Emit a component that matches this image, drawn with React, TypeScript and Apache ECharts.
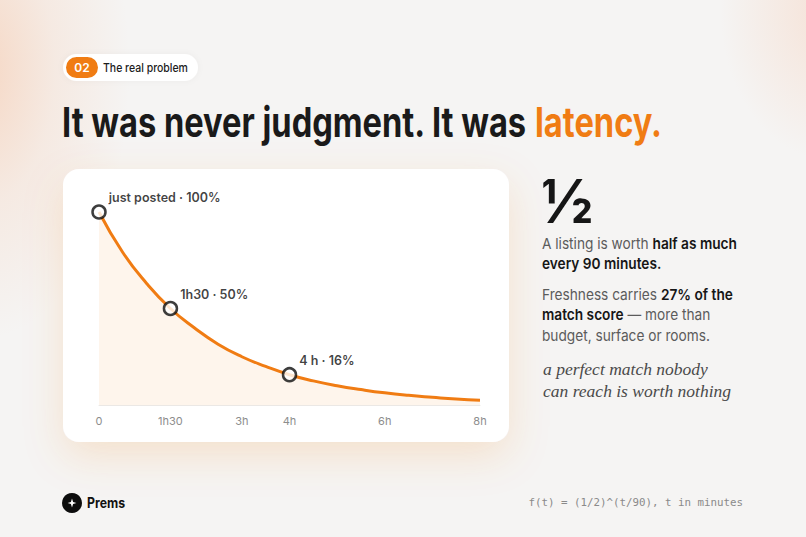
import React, { useEffect, useRef } from "react";
import * as echarts from "echarts";

// ---- data ----
const minutes = [0, 30, 60, 90, 120, 150, 180, 210, 240, 270, 300, 330, 360, 390, 420, 450, 480];
const freshness = [100, 79, 63, 50, 40, 31.5, 25, 20, 15.7, 12.5, 10, 8, 6.3, 5, 4, 3.1, 2.5];
const tickMinutes = [0, 90, 180, 240, 360, 480];
const tickLabels = ["0", "1h30", "3h", "4h", "6h", "8h"];
const markerMinutes = [0, 90, 240];
const markerValues = [100, 50, 15.7];
const markerLabels = ["just posted · 100%", "1h30 · 50%", "4 h · 16%"];

const ORANGE = "#f07c13";
const INK = "#161616";
const GRAY = "#5b5b5b";
const FONT = "Inter";

export default function App() {
  const ref = useRef<HTMLDivElement>(null);

  useEffect(() => {
    if (!ref.current) return;
    const chart = echarts.init(ref.current, undefined, { renderer: "svg" });

    const ctx = document.createElement("canvas").getContext("2d")!;
    const measure = (t: string, weight: number | string, size: number, family = FONT, style = "normal") => {
      ctx.font = `${style} ${weight} ${size}px ${family}`;
      return ctx.measureText(t).width;
    };

    // title
    const tSize = 41;
    const tWeight = 700;
    const titleA = "It was never judgment. It was ";
    const titleB = "latency.";
    const titleW = measure(titleA, tWeight, tSize) + measure(titleB, tWeight, tSize);
    const titleScale = 600 / titleW;

    // paragraph
    const pSize = 15;
    const p1W = measure("A listing is worth ", 400, pSize) + measure("half as much", 600, pSize);
    const pScale = 195 / p1W;

    const hSize = 17;
    const hFamily = "Liberation Serif";
    const hW = measure("a perfect match nobody", 400, hSize, hFamily, "italic");
    const hScale = 165 / hW;

    const tagW = measure("The real problem", 500, 12);
    const tagScale = 85 / tagW;
    const premsW = measure("Prems", 700, 14);
    const premsScale = 38 / premsW;

    const halfW = measure("½", 700, 60);
    const halfScale = 52 / halfW;

    const rich = (weight: number, fill: string, size = pSize, family = FONT, fontStyle = "normal") => ({
      fontFamily: family,
      fontWeight: weight,
      fontSize: size,
      fontStyle,
      fill,
      color: fill,
    });
    const pRich = { a: rich(400, GRAY), b: rich(600, INK) };

    const pLine = (text: string, y: number) => ({
      type: "text",
      x: 542,
      y,
      scaleX: pScale,
      z: 10,
      style: { text, rich: pRich, verticalAlign: "middle", align: "left" },
    });

    const hLine = (text: string, y: number) => ({
      type: "text",
      x: 543,
      y,
      scaleX: hScale,
      z: 10,
      style: {
        text,
        fontFamily: hFamily,
        fontStyle: "italic",
        fontSize: hSize,
        fill: "#4a4a4a",
        verticalAlign: "middle",
        align: "left",
      },
    });

    const s = 4.4;
    const r = 1.1;
    const cx = 72;
    const cy = 503;
    const star = [
      [cx, cy - s],
      [cx + r, cy - r],
      [cx + s, cy],
      [cx + r, cy + r],
      [cx, cy + s],
      [cx - r, cy + r],
      [cx - s, cy],
      [cx - r, cy - r],
    ];

    const option: any = {
      animation: false,
      backgroundColor: "transparent",
      grid: { left: 99, right: 326, top: 212, bottom: 132, containLabel: false },
      xAxis: {
        type: "value",
        min: 0,
        max: 480,
        z: 5,
        axisLine: { show: true, lineStyle: { color: "#ebe8e5", width: 1 } },
        axisTick: { show: false },
        splitLine: { show: false },
        axisLabel: {
          customValues: tickMinutes,
          formatter: (v: number) => {
            const i = tickMinutes.indexOf(v);
            return i >= 0 ? tickLabels[i] : "";
          },
          color: "#8d8d8d",
          fontSize: 11,
          fontFamily: FONT,
          margin: 10,
          hideOverlap: false,
        },
      },
      yAxis: { type: "value", min: 0, max: 100, show: false },
      series: [
        {
          type: "line",
          data: minutes.map((m, i) => [m, freshness[i]]),
          smooth: 0.5,
          showSymbol: false,
          lineStyle: { color: ORANGE, width: 3 },
          areaStyle: { color: "rgba(240,124,19,0.11)" },
          z: 3,
          silent: true,
        },
        {
          type: "scatter",
          data: markerMinutes.map((m, i) => [m, markerValues[i]]),
          symbol: "circle",
          symbolSize: 13,
          itemStyle: { color: "#ffffff", borderColor: "#0d0d0d", borderWidth: 2.5 },
          label: {
            show: true,
            formatter: (p: any) => markerLabels[p.dataIndex],
            position: [17.5, -6.5],
            align: "left",
            verticalAlign: "middle",
            fontFamily: FONT,
            fontWeight: 600,
            fontSize: 12.5,
            color: "#0f0f0f",
          },
          z: 6,
        },
      ],
      graphic: [
        // card
        {
          type: "rect",
          z: 0,
          shape: { x: 63, y: 169, width: 446, height: 273, r: 16 },
          style: {
            fill: "#ffffff",
            shadowBlur: 40,
            shadowOffsetY: 14,
            shadowColor: "rgba(240,124,19,0.16)",
          },
        },
        // tag pill
        {
          type: "rect",
          z: 1,
          shape: { x: 63, y: 54, width: 135, height: 27, r: 13.5 },
          style: { fill: "#ffffff", shadowBlur: 6, shadowColor: "rgba(0,0,0,0.04)" },
        },
        {
          type: "rect",
          z: 2,
          shape: { x: 66, y: 57, width: 32, height: 21, r: 10.5 },
          style: { fill: ORANGE },
        },
        {
          type: "text",
          z: 10,
          x: 82,
          y: 67.5,
          style: {
            text: "02",
            fontFamily: FONT,
            fontWeight: 600,
            fontSize: 12,
            fill: "#ffffff",
            align: "center",
            verticalAlign: "middle",
          },
        },
        {
          type: "text",
          z: 10,
          x: 103,
          y: 67.5,
          scaleX: tagScale,
          style: {
            text: "The real problem",
            fontFamily: FONT,
            fontWeight: 500,
            fontSize: 12,
            fill: "#1c1c1c",
            align: "left",
            verticalAlign: "middle",
          },
        },
        // title
        {
          type: "text",
          z: 10,
          x: 62,
          y: 122,
          scaleX: titleScale,
          style: {
            text: `{a|${titleA}}{b|${titleB}}`,
            rich: { a: rich(tWeight, "#1a1a1a", tSize), b: rich(tWeight, ORANGE, tSize) },
            align: "left",
            verticalAlign: "middle",
          },
        },
        // one half
        {
          type: "text",
          z: 10,
          x: 541,
          y: 201,
          scaleX: halfScale,
          style: {
            text: "½",
            fontFamily: FONT,
            fontWeight: 700,
            fontSize: 60,
            fill: INK,
            align: "left",
            verticalAlign: "middle",
          },
        },
        pLine("{a|A listing is worth }{b|half as much}", 243),
        pLine("{b|every 90 minutes.}", 263.5),
        pLine("{a|Freshness carries }{b|27% of the}", 294),
        pLine("{b|match score}{a| — more than}", 314.5),
        pLine("{a|budget, surface or rooms.}", 335),
        hLine("a perfect match nobody", 369.5),
        hLine("can reach is worth nothing", 391.5),
        // footer logo
        { type: "circle", z: 10, shape: { cx, cy, r: 10 }, style: { fill: "#0d0d0d" } },
        { type: "polygon", z: 11, shape: { points: star }, style: { fill: "#ffffff" } },
        {
          type: "text",
          z: 10,
          x: 87,
          y: 502.5,
          scaleX: premsScale,
          style: {
            text: "Prems",
            fontFamily: FONT,
            fontWeight: 700,
            fontSize: 14,
            fill: "#111111",
            align: "left",
            verticalAlign: "middle",
          },
        },
        {
          type: "text",
          z: 10,
          x: 743,
          y: 502,
          style: {
            text: "f(t) = (1/2)^(t/90), t in minutes",
            fontFamily: "DejaVu Sans Mono",
            fontSize: 10.8,
            fill: "#8a8a8a",
            align: "right",
            verticalAlign: "middle",
          },
        },
      ],
    };

    chart.setOption(option);
    return () => chart.dispose();
  }, []);

  return (
    <div
      ref={ref}
      style={{
        position: "fixed",
        left: 0,
        top: 0,
        width: 806,
        height: 537,
        background:
          "radial-gradient(ellipse 150px 270px at -20px 70px, rgba(247,175,130,0.42) 0%, rgba(247,175,130,0.15) 50%, rgba(247,175,130,0) 100%), radial-gradient(ellipse 110px 150px at 830px 10px, rgba(247,185,150,0.3) 0%, rgba(247,185,150,0) 100%), #f5f4f3",
      }}
    />
  );
}
